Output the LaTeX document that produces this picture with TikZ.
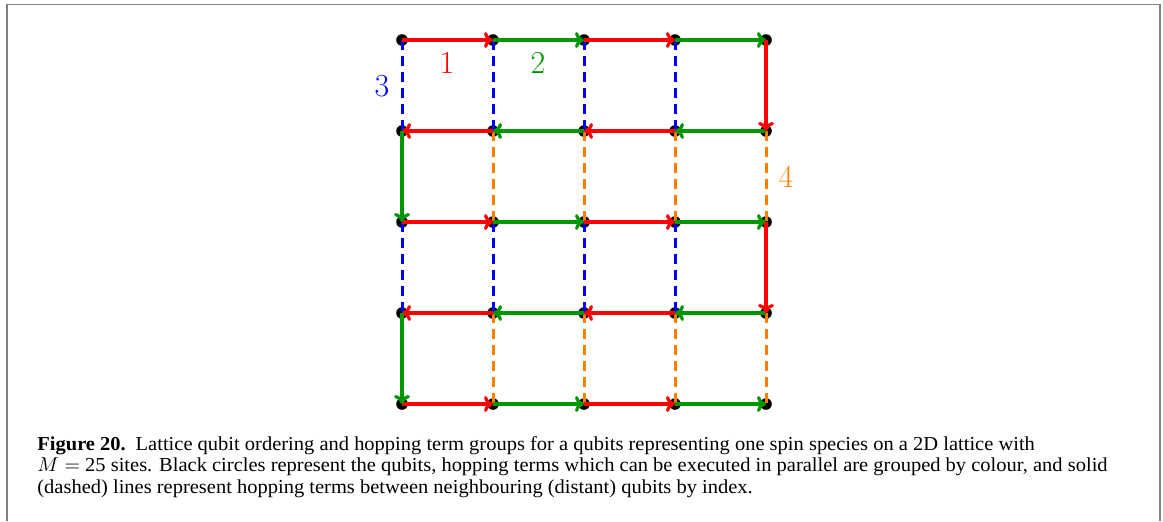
\documentclass[tikz,border=0pt]{standalone}
\usepackage{fontspec}
\newfontfamily\captionfont[FakeStretch=1.035]{Liberation Serif}
\usetikzlibrary{arrows.meta}
\definecolor{hopRed}{RGB}{255,0,0}
\definecolor{hopGreen}{RGB}{0,150,0}
\definecolor{hopBlue}{RGB}{0,0,255}
\definecolor{hopOrange}{RGB}{255,128,0}
\definecolor{frameGray}{RGB}{128,128,128}

\begin{document}
\begin{tikzpicture}[
  x=0.5pt, y=-0.5pt,
  site/.style={circle, fill=black, inner sep=0pt, minimum size=5.8pt},
  hop/.style={-{To[length=4.5pt,width=8pt]}, line width=1.6pt},
  far/.style={dash pattern=on 5pt off 3pt, line width=1.5pt},
  group/.style={font=\fontsize{16}{19}\selectfont},
  capline/.style={anchor=base west, inner sep=0pt, font=\captionfont\fontsize{9.9}{10.8}\selectfont}
]
\useasboundingbox (0,0) rectangle (1163,521);
\draw[frameGray, line width=0.9pt] (7,521) -- (7,4.5) -- (1160,4.5) -- (1160,521);

% qubit sites, row r and column c
\foreach \r in {0,...,4}
  \foreach \c in {0,...,4}
    \node[site] (s\r\c) at ({402+91*\c},{40+91*\r}) {};

% distant hops (dashed)
\foreach \r/\n in {0/1,2/3}
  \foreach \c in {0,...,3}
    \draw[far, hopBlue] (s\r\c.center) -- (s\n\c.center);
\foreach \r/\n in {1/2,3/4}
  \foreach \c in {1,...,4}
    \draw[far, hopOrange] (s\r\c.center) -- (s\n\c.center);

% neighbouring hops along the snake
\foreach \r in {0,2,4}
  \foreach \c/\n/\col in {0/1/hopRed,1/2/hopGreen,2/3/hopRed,3/4/hopGreen}
    \draw[hop, \col] (s\r\c.center) -- (s\r\n.center);
\foreach \r in {1,3}
  \foreach \c/\n/\col in {0/1/hopRed,1/2/hopGreen,2/3/hopRed,3/4/hopGreen}
    \draw[hop, \col] (s\r\n.center) -- (s\r\c.center);
\draw[hop, hopRed] (s04.center) -- (s14.center);
\draw[hop, hopGreen] (s10.center) -- (s20.center);
\draw[hop, hopRed] (s24.center) -- (s34.center);
\draw[hop, hopGreen] (s30.center) -- (s40.center);

% group labels
\node[group, text=hopRed] (lab1) at (447,63) {1};
\node[group, text=hopGreen] (lab2) at (538,63) {2};
\node[group, text=hopBlue] (lab3) at (382,86) {3};
\node[group, text=hopOrange] (lab4) at (786,177) {4};

% caption
\node[capline] (cap1) at (37,450) {\textbf{Figure 20.}\enspace Lattice qubit ordering and hopping term groups for a qubits representing one spin species on a 2D lattice with};
\node[capline] (cap2) at (37,471.7) {$M =$ 25 sites. Black circles represent the qubits, hopping terms which can be executed in parallel are grouped by colour, and solid};
\node[capline] (cap3) at (37,493) {(dashed) lines represent hopping terms between neighbouring (distant) qubits by index.};
\end{tikzpicture}
\end{document}
